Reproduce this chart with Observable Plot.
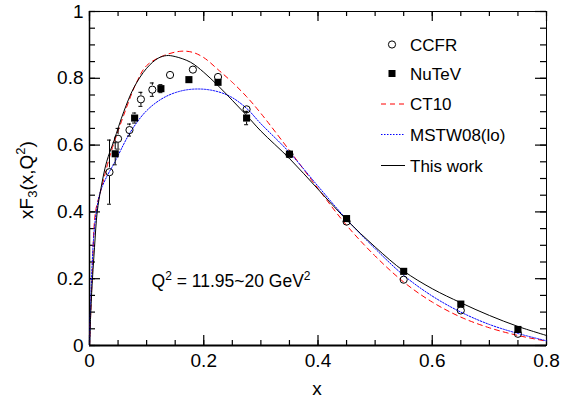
<!DOCTYPE html>
<html><head><meta charset="utf-8">
<script src="https://cdn.jsdelivr.net/npm/d3@7"></script>
<script src="https://cdn.jsdelivr.net/npm/@observablehq/plot@0.6"></script>
<style>
body{margin:0;background:#fff;}
#chart{width:561px;height:402px;}
</style>
</head><body><div id="chart"></div>
<script>
// ---- data ----
const ccfrX   = [0.035, 0.050, 0.070, 0.090, 0.110, 0.141, 0.181, 0.225, 0.275, 0.350, 0.450, 0.550, 0.650, 0.750];
const ccfrY   = [0.519, 0.619, 0.645, 0.737, 0.766, 0.810, 0.826, 0.804, 0.707, 0.572, 0.371, 0.197, 0.105, 0.035];
const ccfrErr = [0.096, 0.031, 0.018, 0.021, 0.020, 0.010, 0.010, 0.010, 0.010, 0.010, 0.008, 0.008, 0.006, 0.005];

const nutevX   = [0.045, 0.079, 0.125, 0.174, 0.225, 0.275, 0.350, 0.450, 0.550, 0.650, 0.750];
const nutevY   = [0.574, 0.681, 0.769, 0.796, 0.788, 0.681, 0.573, 0.380, 0.222, 0.124, 0.048];
const nutevErr = [0.033, 0.015, 0.012, 0.010, 0.010, 0.020, 0.010, 0.008, 0.008, 0.006, 0.005];

const ct10X = [0, 0.002, 0.005, 0.0105, 0.02, 0.037, 0.06, 0.083, 0.1, 0.13, 0.16, 0.18, 0.2, 0.225, 0.25, 0.275, 0.3, 0.35, 0.4, 0.45, 0.5, 0.55, 0.6, 0.65, 0.7, 0.75, 0.8];
const ct10Y = [0, 0.09, 0.22, 0.40, 0.465, 0.575, 0.69, 0.79, 0.838, 0.868, 0.881, 0.878, 0.862, 0.826, 0.788, 0.745, 0.695, 0.584, 0.47, 0.36, 0.268, 0.19, 0.13, 0.085, 0.053, 0.03, 0.013];

const mstwX = [0, 0.002, 0.004, 0.0076, 0.012, 0.019, 0.03, 0.043, 0.072, 0.1, 0.13, 0.16, 0.19, 0.22, 0.247, 0.275, 0.3, 0.35, 0.4, 0.45, 0.5, 0.55, 0.6, 0.65, 0.7, 0.75, 0.8];
const mstwY = [0, 0.12, 0.22, 0.33, 0.40, 0.46, 0.505, 0.545, 0.640, 0.703, 0.742, 0.762, 0.768, 0.762, 0.745, 0.71, 0.664, 0.578, 0.477, 0.378, 0.29, 0.21, 0.148, 0.10, 0.063, 0.036, 0.014];

const thisX = [0, 0.002, 0.004, 0.0088, 0.0135, 0.02, 0.03, 0.043, 0.06, 0.078, 0.1, 0.12, 0.135, 0.15, 0.177, 0.2, 0.225, 0.25, 0.275, 0.3, 0.35, 0.4, 0.45, 0.5, 0.55, 0.6, 0.65, 0.7, 0.75, 0.8];
const thisY = [0, 0.09, 0.165, 0.294, 0.40, 0.47, 0.55, 0.614, 0.70, 0.773, 0.83, 0.86, 0.868, 0.865, 0.848, 0.818, 0.778, 0.734, 0.689, 0.642, 0.560, 0.468, 0.376, 0.295, 0.223, 0.170, 0.128, 0.090, 0.057, 0.030];

const xTickLabels = [0, 0.2, 0.4, 0.6, 0.8];
const yTickLabels = [0, 0.2, 0.4, 0.6, 0.8, 1];
const legendLabels = ["CCFR", "NuTeV", "CT10", "MSTW08(lo)", "This work"];

// ---- build tables ----
const ccfr = ccfrX.map((x, i) => ({x, y: ccfrY[i], lo: ccfrY[i] - ccfrErr[i], hi: ccfrY[i] + ccfrErr[i]}));
const nutev = nutevX.map((x, i) => ({x, y: nutevY[i], lo: nutevY[i] - nutevErr[i], hi: nutevY[i] + nutevErr[i]}));
const ct10 = ct10X.map((x, i) => ({x, y: ct10Y[i]}));
const mstw = mstwX.map((x, i) => ({x, y: mstwY[i]}));
const thisw = thisX.map((x, i) => ({x, y: thisY[i]}));

const W = 561, H = 402, mL = 89, mR = 15, mT = 11, mB = 57;
const plotH = H - mT - mB, plotW = W - mL - mR;
const X0 = 0, X1 = 0.8, Y0 = 0, Y1 = 1;
const px2x = p => p / plotW * (X1 - X0);   // pixel length -> x units
const px2y = p => p / plotH * (Y1 - Y0);   // pixel length -> y units
const xMinor = d3.ticks(X0, X1, 16), xMajor = xTickLabels;
const yMinor = d3.ticks(Y0, Y1, 20), yMajor = yTickLabels;
const font = "'Liberation Sans', Arial, Helvetica, sans-serif";
const capW = px2x(2);
const gapC = px2y(4.2), gapS = px2y(4);

// error bar segments outside the marker
function errSegs(data, gap) {
  const out = [];
  for (const d of data) {
    if (d.hi - d.y > gap) out.push({x: d.x, a: d.y + gap, b: d.hi});
    if (d.y - d.lo > gap) out.push({x: d.x, a: d.lo, b: d.y - gap});
  }
  return out;
}
function caps(data, gap) {
  const out = [];
  for (const d of data) {
    if (d.hi - d.y > gap) out.push({x: d.x, y: d.hi});
    if (d.y - d.lo > gap) out.push({x: d.x, y: d.lo});
  }
  return out;
}

const tk = {stroke: "#000", strokeWidth: 1.2};

const chart = Plot.plot({
  width: W, height: H,
  marginLeft: mL, marginRight: mR, marginTop: mT, marginBottom: mB,
  style: {fontFamily: font, fontSize: "19px", background: "#fff", color: "#000"},
  x: {domain: [X0, X1]},
  y: {domain: [Y0, Y1]},
  marks: [
    // inward ticks: bottom / top
    Plot.ruleX(xMinor, {x: d => d, y1: Y0, y2: Y0 + px2y(5), ...tk}),
    Plot.ruleX(xMajor, {x: d => d, y1: Y0, y2: Y0 + px2y(10), ...tk}),
    Plot.ruleX(xMinor, {x: d => d, y1: Y1, y2: Y1 - px2y(5), ...tk}),
    Plot.ruleX(xMajor, {x: d => d, y1: Y1, y2: Y1 - px2y(10), ...tk}),
    // left / right
    Plot.ruleY(yMinor, {y: d => d, x1: X0, x2: X0 + px2x(6), ...tk}),
    Plot.ruleY(yMajor, {y: d => d, x1: X0, x2: X0 + px2x(11), ...tk}),
    Plot.ruleY(yMinor, {y: d => d, x1: X1, x2: X1 - px2x(6), ...tk}),
    Plot.ruleY(yMajor, {y: d => d, x1: X1, x2: X1 - px2x(11), ...tk}),
    Plot.frame({stroke: "#000", strokeWidth: 1}),
    Plot.ruleY([Y0], {stroke: "#000", strokeWidth: 2}),
    Plot.ruleX([X0], {stroke: "#000", strokeWidth: 1.5}),
    Plot.axisX({ticks: xTickLabels, tickSize: 0, tickPadding: 8, tickFormat: d => String(d), fontSize: 19, label: null}),
    Plot.axisY({ticks: yTickLabels, tickSize: 0, tickPadding: 6, tickFormat: d => String(d), fontSize: 19, label: null}),
    // curves
    Plot.line(ct10, {x: "x", y: "y", stroke: "#ff0000", strokeWidth: 1, strokeDasharray: "5,4", curve: "catmull-rom"}),
    Plot.line(mstw, {x: "x", y: "y", stroke: "#0000ff", strokeWidth: 1, strokeDasharray: "1.5,1.5", curve: "catmull-rom"}),
    Plot.line(thisw, {x: "x", y: "y", stroke: "#000", strokeWidth: 1, curve: "catmull-rom"}),
    // error bars
    Plot.ruleX(errSegs(ccfr, gapC), {x: "x", y1: "a", y2: "b", stroke: "#000"}),
    Plot.ruleY(caps(ccfr, gapC), {y: "y", x1: d => d.x - capW, x2: d => d.x + capW, stroke: "#000"}),
    Plot.ruleX(errSegs(nutev, gapS), {x: "x", y1: "a", y2: "b", stroke: "#000"}),
    Plot.ruleY(caps(nutev, gapS), {y: "y", x1: d => d.x - capW, x2: d => d.x + capW, stroke: "#000"}),
    // markers
    Plot.dot(nutev, {x: "x", y: "y", symbol: "square", r: 4, fill: "#000", stroke: "none"}),
    Plot.dot(ccfr, {x: "x", y: "y", symbol: "circle", r: 3.6, fill: "none", stroke: "#000", strokeWidth: 1})
  ]
});

document.getElementById("chart").appendChild(chart);
const svg = d3.select(chart);

// x title
svg.append("text").attr("x", 317).attr("y", 395).attr("text-anchor", "middle")
  .attr("font-family", font).attr("font-size", 19).text("x");

// y title with sub/superscripts
const yt = svg.append("text").attr("transform", "translate(33,180) rotate(-90)")
  .attr("text-anchor", "middle").attr("font-family", font).attr("font-size", 19);
yt.append("tspan").text("xF");
yt.append("tspan").attr("font-size", 13).attr("baseline-shift", "-4").text("3");
yt.append("tspan").text("(x,Q");
yt.append("tspan").attr("font-size", 13).attr("baseline-shift", "8").text("2");
yt.append("tspan").text(")");

// annotation
const at = svg.append("text").attr("x", 151.5).attr("y", 287).attr("text-anchor", "start")
  .attr("font-family", font).attr("font-size", 17.5);
at.append("tspan").text("Q");
at.append("tspan").attr("font-size", 12).attr("baseline-shift", "7").text("2");
at.append("tspan").text(" = 11.95~20 GeV");
at.append("tspan").attr("font-size", 12).attr("baseline-shift", "7").text("2");

// legend
const lg = svg.append("g").attr("font-family", font).attr("font-size", 17).attr("text-anchor", "start");
const rowsY = [44.5, 73.5, 104, 134.5, 165.5];
lg.append("circle").attr("cx", 392).attr("cy", rowsY[0]).attr("r", 3.6).attr("fill", "none").attr("stroke", "#000");
lg.append("rect").attr("x", 388.5).attr("y", rowsY[1] - 3.5).attr("width", 7).attr("height", 7).attr("fill", "#000");
const lineStyles = [null, null, {c: "#ff0000", d: "5,4"}, {c: "#0000ff", d: "1.5,1.5"}, {c: "#000", d: null}];
lineStyles.forEach((s, i) => {
  if (!s) return;
  const l = lg.append("line").attr("x1", 381).attr("x2", 405).attr("y1", rowsY[i]).attr("y2", rowsY[i])
    .attr("stroke", s.c).attr("stroke-width", 1);
  if (s.d) l.attr("stroke-dasharray", s.d);
});
legendLabels.forEach((t, i) => {
  lg.append("text").attr("x", 410).attr("y", rowsY[i] + 6.2).text(t);
});
</script>
</body></html>
